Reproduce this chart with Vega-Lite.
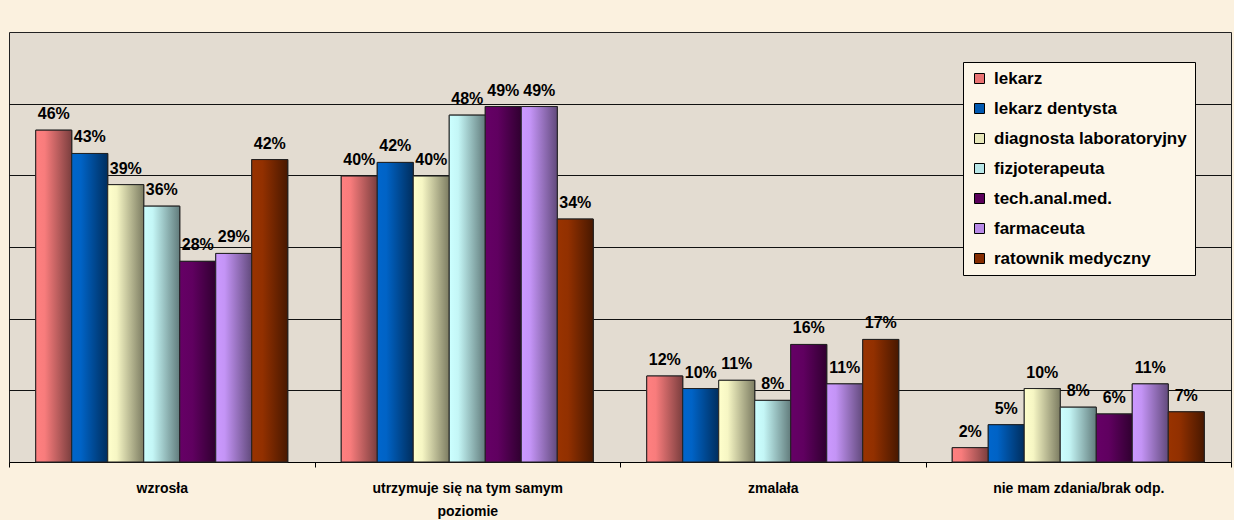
{
  "$schema": "https://vega.github.io/schema/vega-lite/v6.json",
  "width": 1222,
  "height": 430,
  "autosize": {"type": "none"},
  "padding": {"left": 9, "top": 32, "right": 3, "bottom": 58},
  "background": "#FBF1DF",
  "config": {
    "view": {"fill": "#E3DCD1", "stroke": "#222", "strokeWidth": 1},
    "font": "Liberation Sans"
  },
  "data": {
    "values": [
      {"cat": "wzrosła", "series": "lekarz", "value": 46.3, "label": "46%"},
      {"cat": "wzrosła", "series": "lekarz dentysta", "value": 43.05, "label": "43%"},
      {"cat": "wzrosła", "series": "diagnosta laboratoryjny", "value": 38.7, "label": "39%"},
      {"cat": "wzrosła", "series": "fizjoterapeuta", "value": 35.7, "label": "36%"},
      {"cat": "wzrosła", "series": "tech.anal.med.", "value": 28.0, "label": "28%"},
      {"cat": "wzrosła", "series": "farmaceuta", "value": 29.1, "label": "29%"},
      {"cat": "wzrosła", "series": "ratownik medyczny", "value": 42.2, "label": "42%"},
      {"cat": "utrzymuje się na tym samym poziomie", "series": "lekarz", "value": 39.9, "label": "40%"},
      {"cat": "utrzymuje się na tym samym poziomie", "series": "lekarz dentysta", "value": 41.8, "label": "42%"},
      {"cat": "utrzymuje się na tym samym poziomie", "series": "diagnosta laboratoryjny", "value": 39.9, "label": "40%"},
      {"cat": "utrzymuje się na tym samym poziomie", "series": "fizjoterapeuta", "value": 48.4, "label": "48%"},
      {"cat": "utrzymuje się na tym samym poziomie", "series": "tech.anal.med.", "value": 49.6, "label": "49%"},
      {"cat": "utrzymuje się na tym samym poziomie", "series": "farmaceuta", "value": 49.6, "label": "49%"},
      {"cat": "utrzymuje się na tym samym poziomie", "series": "ratownik medyczny", "value": 33.9, "label": "34%"},
      {"cat": "zmalała", "series": "lekarz", "value": 12.0, "label": "12%"},
      {"cat": "zmalała", "series": "lekarz dentysta", "value": 10.25, "label": "10%"},
      {"cat": "zmalała", "series": "diagnosta laboratoryjny", "value": 11.4, "label": "11%"},
      {"cat": "zmalała", "series": "fizjoterapeuta", "value": 8.6, "label": "8%"},
      {"cat": "zmalała", "series": "tech.anal.med.", "value": 16.4, "label": "16%"},
      {"cat": "zmalała", "series": "farmaceuta", "value": 10.9, "label": "11%"},
      {"cat": "zmalała", "series": "ratownik medyczny", "value": 17.1, "label": "17%"},
      {"cat": "nie mam zdania/brak odp.", "series": "lekarz", "value": 2.0, "label": "2%"},
      {"cat": "nie mam zdania/brak odp.", "series": "lekarz dentysta", "value": 5.2, "label": "5%"},
      {"cat": "nie mam zdania/brak odp.", "series": "diagnosta laboratoryjny", "value": 10.25, "label": "10%"},
      {"cat": "nie mam zdania/brak odp.", "series": "fizjoterapeuta", "value": 7.65, "label": "8%"},
      {"cat": "nie mam zdania/brak odp.", "series": "tech.anal.med.", "value": 6.7, "label": "6%"},
      {"cat": "nie mam zdania/brak odp.", "series": "farmaceuta", "value": 10.9, "label": "11%"},
      {"cat": "nie mam zdania/brak odp.", "series": "ratownik medyczny", "value": 7.0, "label": "7%"}
    ]
  },
  "encoding": {
    "x": {
      "field": "cat",
      "type": "nominal",
      "sort": null,
      "scale": {"paddingInner": 0, "paddingOuter": 0},
      "axis": {
        "title": null,
        "labelAngle": 0,
        "labelFont": "Liberation Sans",
        "labelFontWeight": "bold",
        "labelFontSize": 14,
        "labelColor": "#000",
        "labelPadding": 14,
        "labelLineHeight": 23,
        "labelExpr": "datum.label == 'utrzymuje się na tym samym poziomie' ? ['utrzymuje się na tym samym', 'poziomie'] : datum.label",
        "domainColor": "#000",
        "domainWidth": 1,
        "ticks": true,
        "tickBand": "extent",
        "tickColor": "#000",
        "tickSize": 5,
        "labelLimit": 400
      }
    },
    "xOffset": {
      "field": "series",
      "type": "nominal",
      "scale": {
        "domain": ["lekarz", "lekarz dentysta", "diagnosta laboratoryjny", "fizjoterapeuta", "tech.anal.med.", "farmaceuta", "ratownik medyczny"],
        "paddingInner": 0,
        "paddingOuter": 0.743
      }
    },
    "y": {
      "field": "value",
      "type": "quantitative",
      "scale": {"domain": [0, 60], "nice": false},
      "axis": {
        "title": null,
        "labels": false,
        "ticks": false,
        "domain": false,
        "grid": true,
        "gridColor": "#111",
        "gridWidth": 1,
        "gridOpacity": 1,
        "values": [10, 20, 30, 40, 50]
      }
    }
  },
  "layer": [
    {
      "mark": {"type": "bar", "stroke": "#222", "strokeWidth": 1},
      "encoding": {
        "color": {
          "field": "series",
          "type": "nominal",
          "scale": {
            "domain": ["lekarz", "lekarz dentysta", "diagnosta laboratoryjny", "fizjoterapeuta", "tech.anal.med.", "farmaceuta", "ratownik medyczny"],
            "range": ["#E97272", "#0058B0", "#E6E6B8", "#B8E6E6", "#5A005A", "#B889E6", "#852C00"]
          },
          "legend": {
            "title": null,
            "orient": "none",
            "legendX": 954,
            "legendY": 30,
            "symbolType": "square",
            "symbolSize": 100,
            "symbolStrokeColor": "#000",
            "symbolStrokeWidth": 1,
            "symbolOpacity": 1,
            "labelFont": "Liberation Sans",
            "labelFontWeight": "bold",
            "labelFontSize": 17,
            "labelColor": "#000",
            "labelOffset": 6,
            "rowPadding": 12,
            "padding": 8,
            "fillColor": "#FDF6E8",
            "strokeColor": "#000",
            "labelLimit": 300
          }
        }
      }
    },
    {
      "transform": [{"filter": "datum.series == 'lekarz'"}],
      "mark": {"type": "bar", "stroke": "#222", "strokeWidth": 1,
        "fill": {"gradient": "linear", "x1": 0, "x2": 1, "y1": 0, "y2": 0, "stops": [{"offset": 0, "color": "#FF8080"}, {"offset": 0.25, "color": "#F87C7C"}, {"offset": 1, "color": "#7A3E3E"}]}}
    },
    {
      "transform": [{"filter": "datum.series == 'lekarz dentysta'"}],
      "mark": {"type": "bar", "stroke": "#222", "strokeWidth": 1,
        "fill": {"gradient": "linear", "x1": 0, "x2": 1, "y1": 0, "y2": 0, "stops": [{"offset": 0, "color": "#0066CC"}, {"offset": 0.25, "color": "#0063C6"}, {"offset": 1, "color": "#002E5E"}]}}
    },
    {
      "transform": [{"filter": "datum.series == 'diagnosta laboratoryjny'"}],
      "mark": {"type": "bar", "stroke": "#222", "strokeWidth": 1,
        "fill": {"gradient": "linear", "x1": 0, "x2": 1, "y1": 0, "y2": 0, "stops": [{"offset": 0, "color": "#FFFFCC"}, {"offset": 0.25, "color": "#F6F6C4"}, {"offset": 1, "color": "#7C7C62"}]}}
    },
    {
      "transform": [{"filter": "datum.series == 'fizjoterapeuta'"}],
      "mark": {"type": "bar", "stroke": "#222", "strokeWidth": 1,
        "fill": {"gradient": "linear", "x1": 0, "x2": 1, "y1": 0, "y2": 0, "stops": [{"offset": 0, "color": "#CCFFFF"}, {"offset": 0.25, "color": "#C4F6F6"}, {"offset": 1, "color": "#627C7C"}]}}
    },
    {
      "transform": [{"filter": "datum.series == 'tech.anal.med.'"}],
      "mark": {"type": "bar", "stroke": "#222", "strokeWidth": 1,
        "fill": {"gradient": "linear", "x1": 0, "x2": 1, "y1": 0, "y2": 0, "stops": [{"offset": 0, "color": "#660066"}, {"offset": 0.35, "color": "#600060"}, {"offset": 1, "color": "#300030"}]}}
    },
    {
      "transform": [{"filter": "datum.series == 'farmaceuta'"}],
      "mark": {"type": "bar", "stroke": "#222", "strokeWidth": 1,
        "fill": {"gradient": "linear", "x1": 0, "x2": 1, "y1": 0, "y2": 0, "stops": [{"offset": 0, "color": "#CC99FF"}, {"offset": 0.25, "color": "#C494F6"}, {"offset": 1, "color": "#624A7C"}]}}
    },
    {
      "transform": [{"filter": "datum.series == 'ratownik medyczny'"}],
      "mark": {"type": "bar", "stroke": "#222", "strokeWidth": 1,
        "fill": {"gradient": "linear", "x1": 0, "x2": 1, "y1": 0, "y2": 0, "stops": [{"offset": 0, "color": "#993300"}, {"offset": 0.3, "color": "#923000"}, {"offset": 1, "color": "#481800"}]}}
    },
    {
      "mark": {"type": "text", "baseline": "alphabetic", "dy": -11, "font": "Liberation Sans", "fontWeight": "bold", "fontSize": 16, "color": "#000"},
      "encoding": {
        "text": {"field": "label", "type": "nominal"}
      }
    }
  ]
}
